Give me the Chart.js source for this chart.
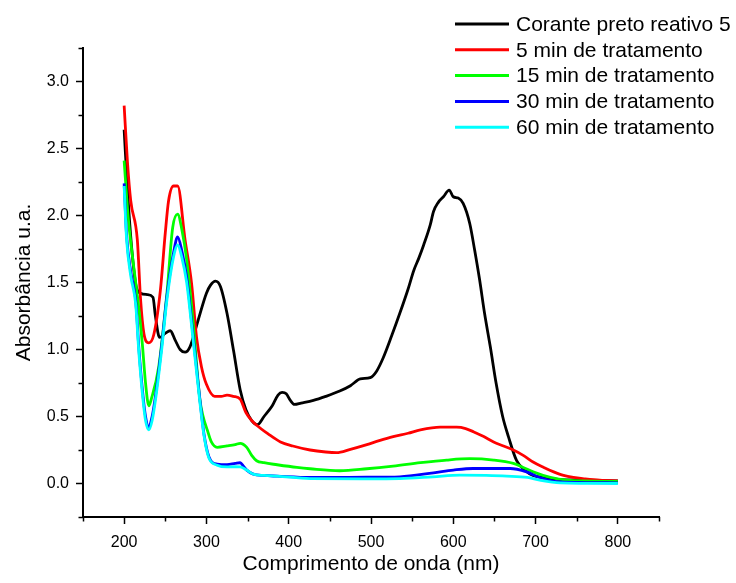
<!DOCTYPE html>
<html>
<head>
<meta charset="utf-8">
<script src="https://cdn.jsdelivr.net/npm/chart.js@4/dist/chart.umd.min.js"></script>
<style>
html,body{margin:0;padding:0;background:#fff;}
#wrap{width:736px;height:583px;position:relative;}
</style>
</head>
<body>
<div id="wrap"><canvas id="c" width="736" height="583"></canvas></div>
<script>
const seriesLabels = ["Corante preto reativo 5","5 min de tratamento","15 min de tratamento","30 min de tratamento","60 min de tratamento"];
const seriesColors = ["#000000","#ff0000","#00ff00","#0000ff","#00ffff"];

const wlBlack = [200,205,210,215,220,228,235,238,243,250,256,262,268,274,280,290,300,305,311,317,325,333,341,348,355,362,370,380,387,392,397,402,407,415,430,445,462,475,487,499,507,515,525,535,545,552,558,564,572,576,582,588,595,600,606,612,620,626,632,638,645,652,660,667,677,687,697,710,720,750,800];
const absBlack = [2.64,2.10,1.70,1.46,1.42,1.41,1.39,1.25,1.09,1.12,1.14,1.07,1.00,0.98,1.02,1.22,1.42,1.48,1.51,1.47,1.27,0.99,0.70,0.55,0.47,0.44,0.50,0.58,0.66,0.68,0.67,0.62,0.59,0.60,0.62,0.65,0.69,0.73,0.78,0.79,0.84,0.94,1.10,1.27,1.45,1.59,1.68,1.78,1.93,2.03,2.10,2.14,2.19,2.14,2.13,2.09,1.94,1.74,1.52,1.27,1.02,0.75,0.50,0.35,0.17,0.10,0.06,0.045,0.035,0.025,0.02];

const wlRed = [200,204,208,216,220,224,230,236,244,250,254,260,265,274,282,288,294,300,310,318,325,333,341,348,355,361,375,390,405,426,445,458,475,495,510,527,545,560,584,604,615,625,637,649,661,673,685,697,710,722,734,746,760,778,800];
const absRed = [2.82,2.40,2.11,1.82,1.37,1.12,1.05,1.11,1.44,1.87,2.11,2.22,2.22,1.82,1.49,1.09,0.87,0.74,0.65,0.65,0.66,0.65,0.63,0.53,0.47,0.435,0.37,0.31,0.28,0.25,0.235,0.23,0.255,0.29,0.32,0.35,0.375,0.40,0.42,0.42,0.41,0.385,0.35,0.31,0.28,0.25,0.21,0.16,0.12,0.087,0.06,0.045,0.035,0.025,0.02];

const wlGreen = [200,205,210,218,222,226,230,233,242,252,259,265,270,276,284,292,296,301,306,313,325,335,341,349,355,361,370,386,410,426,462,495,527,560,592,620,649,673,685,697,718,738,800];
const absGreen = [2.41,1.98,1.70,1.30,1.05,0.75,0.58,0.63,0.87,1.42,1.91,2.01,1.90,1.67,1.19,0.63,0.50,0.40,0.31,0.27,0.28,0.29,0.30,0.27,0.21,0.17,0.155,0.14,0.12,0.11,0.095,0.11,0.13,0.155,0.175,0.185,0.175,0.15,0.12,0.087,0.045,0.025,0.015];

const wlBlue = [200,203,208,214,218,223,226,230,234,238,246,252,260,265,270,276,284,292,297,303,313,325,335,341,345,349,357,370,386,426,495,535,576,600,624,669,689,705,730,800];
const absBlue = [2.24,1.85,1.58,1.37,1.00,0.65,0.50,0.42,0.50,0.65,1.05,1.40,1.72,1.84,1.74,1.54,1.09,0.63,0.37,0.20,0.145,0.14,0.15,0.155,0.13,0.10,0.07,0.06,0.055,0.045,0.047,0.05,0.08,0.10,0.112,0.112,0.087,0.045,0.012,0.005];

const wlCyan = [200,203,208,214,218,223,226,230,234,238,246,252,260,265,270,276,284,292,297,303,313,325,335,341,349,357,370,386,426,495,535,575,608,640,665,690,705,730,800];
const absCyan = [2.22,1.82,1.55,1.34,0.97,0.62,0.47,0.40,0.47,0.62,1.02,1.37,1.69,1.78,1.69,1.50,1.06,0.61,0.36,0.19,0.137,0.124,0.125,0.124,0.10,0.07,0.06,0.055,0.037,0.035,0.037,0.05,0.062,0.06,0.055,0.045,0.025,0.005,0.0];

const xTitle = "Comprimento de onda (nm)";
const yTitle = "Absorbância u.a.";

function pairs(xs, ys){ return xs.map((x,i)=>({x:x, y:ys[i]})); }
const allX = [wlBlack, wlRed, wlGreen, wlBlue, wlCyan];
const allY = [absBlack, absRed, absGreen, absBlue, absCyan];

const FONT = "'Liberation Sans', Arial, Helvetica, sans-serif";

const datasets = allX.map((xs,i)=>({
  label: seriesLabels[i],
  data: pairs(xs, allY[i]),
  borderColor: seriesColors[i],
  backgroundColor: seriesColors[i],
  borderWidth: 2.8,
  pointRadius: 0,
  cubicInterpolationMode: 'monotone',
  fill: false,
  order: 5 - i
}));

function isMajor(v, step){ const r = v/step; return Math.abs(r - Math.round(r)) < 1e-6; }

const minorTicks = {
  id: 'minorTicks',
  afterDraw(chart){
    const ctx = chart.ctx;
    ctx.save();
    ctx.strokeStyle = '#000';
    ctx.lineWidth = 1.5;
    const xs = chart.scales.x, ys = chart.scales.y;
    xs.ticks.forEach(t=>{
      if(!isMajor(t.value,100)){
        const px = Math.round(xs.getPixelForValue(t.value))+0.5;
        ctx.beginPath(); ctx.moveTo(px, xs.top); ctx.lineTo(px, xs.top+4.5); ctx.stroke();
      }
    });
    ys.ticks.forEach(t=>{
      if(!isMajor(t.value,0.5)){
        const py = Math.round(ys.getPixelForValue(t.value))+0.5;
        ctx.beginPath(); ctx.moveTo(ys.right, py); ctx.lineTo(ys.right-4.5, py); ctx.stroke();
      }
    });
    ctx.restore();
  }
};

const customLegend = {
  id: 'customLegend',
  afterDraw(chart){
    const ctx = chart.ctx;
    ctx.save();
    ctx.font = "21px " + FONT;
    ctx.textBaseline = 'middle';
    ctx.textAlign = 'left';
    seriesLabels.forEach((lab,i)=>{
      const y = 24 + i*25.8;
      ctx.strokeStyle = seriesColors[i];
      ctx.lineWidth = 3;
      ctx.beginPath(); ctx.moveTo(455, y); ctx.lineTo(509, y); ctx.stroke();
      ctx.fillStyle = '#000';
      ctx.fillText(lab, 516, y+1);
    });
    ctx.restore();
  }
};

new Chart(document.getElementById('c'), {
  type: 'line',
  data: { datasets: datasets },
  options: {
    responsive: false,
    animation: false,
    layout: { padding: { top: 48, right: 77, left: 0, bottom: 0 } },
    plugins: { legend: { display: false }, tooltip: { enabled: false } },
    scales: {
      x: {
        type: 'linear',
        min: 150, max: 850,
        afterFit(s){ s.height = 66; },
        border: { display: true, color: '#000', width: 2 },
        grid: {
          display: true, drawOnChartArea: false, drawTicks: true, tickLength: 7, tickWidth: 1.5,
          tickColor: (c)=> (c.tick && isMajor(c.tick.value,100)) ? '#000' : 'rgba(0,0,0,0)'
        },
        ticks: {
          stepSize: 50, autoSkip: false, maxRotation: 0, padding: 9,
          color: '#000', font: { family: FONT, size: 16 },
          callback: (v)=> isMajor(v,100) ? String(v) : ''
        },
        title: { display: true, text: xTitle, color: '#000', font: { family: FONT, size: 21 }, padding: { top: 0, bottom: 6 } }
      },
      y: {
        type: 'linear',
        min: -0.25, max: 3.25,
        afterFit(s){ s.width = 83; },
        border: { display: true, color: '#000', width: 2 },
        grid: {
          display: true, drawOnChartArea: false, drawTicks: true, tickLength: 7, tickWidth: 1.5,
          tickColor: (c)=> (c.tick && isMajor(c.tick.value,0.5)) ? '#000' : 'rgba(0,0,0,0)'
        },
        ticks: {
          stepSize: 0.25, autoSkip: false, padding: 7,
          color: '#000', font: { family: FONT, size: 16 },
          callback: (v)=> isMajor(v,0.5) ? Number(v).toFixed(1) : ''
        },
        title: { display: true, text: yTitle, color: '#000', font: { family: FONT, size: 21 }, padding: { top: 12, bottom: 0 } }
      }
    }
  },
  plugins: [minorTicks, customLegend]
});
</script>
</body>
</html>
